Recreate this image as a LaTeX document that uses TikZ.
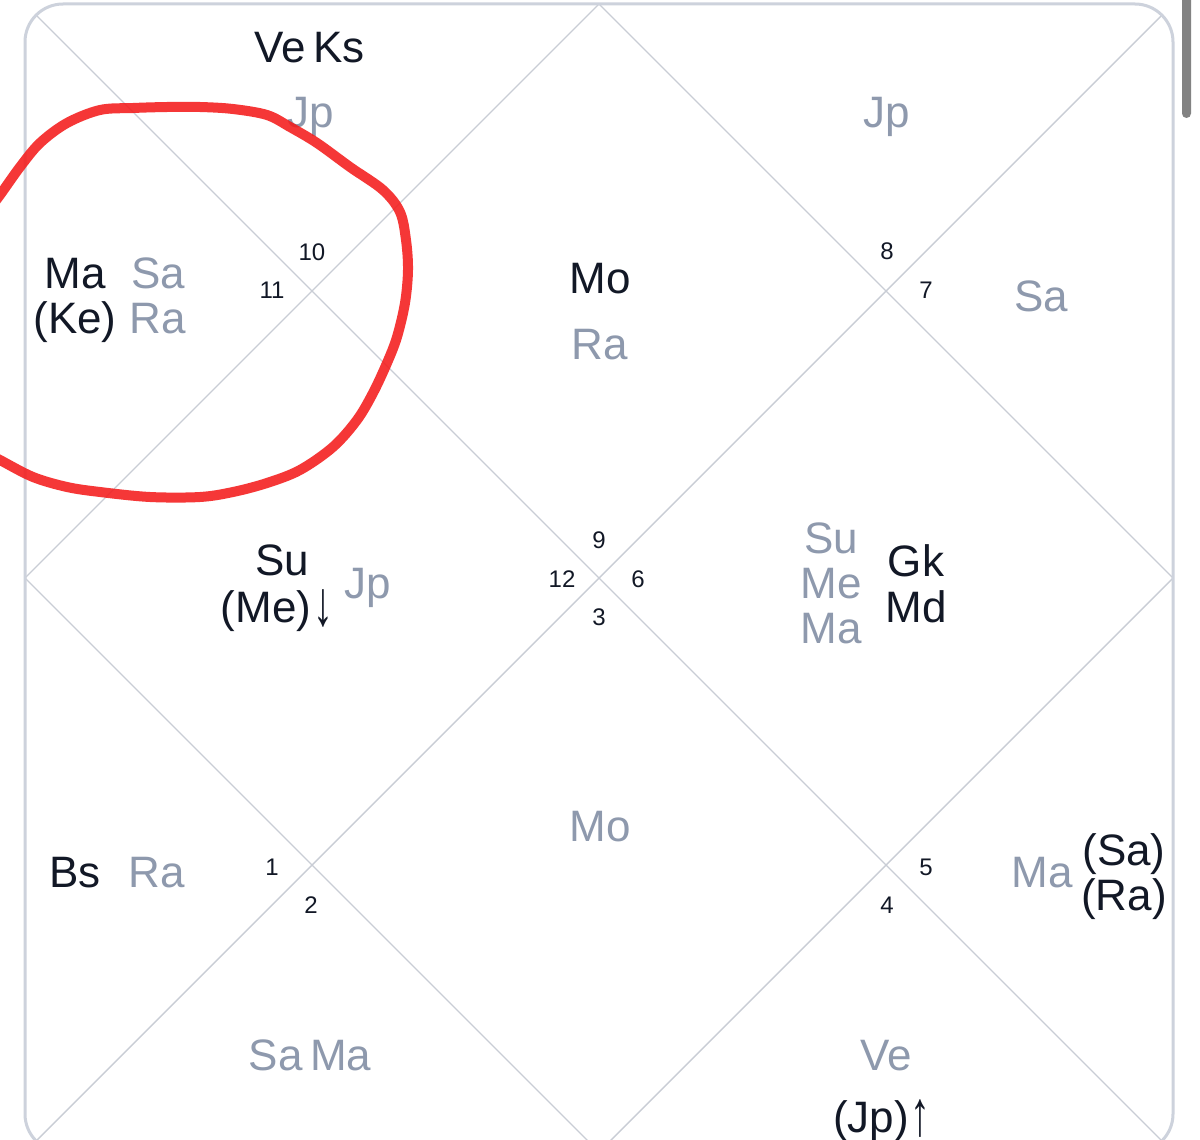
\documentclass[tikz,border=0pt]{standalone}
\usepackage{fontspec}
\setmainfont{Liberation Sans}
\definecolor{ink}{HTML}{121826}
\definecolor{slate}{HTML}{8E99AD}
\definecolor{gridln}{HTML}{C9CDD5}
\definecolor{frameln}{HTML}{CDD2DC}
\definecolor{marker}{HTML}{F41C1C}
\definecolor{scrollc}{HTML}{828282}
\newcommand{\tallarrow}[1]{\raisebox{-3pt}{\scalebox{0.9}[1.45]{#1}}}
\begin{document}
\begin{tikzpicture}[x=1pt,y=-1pt,
  pl/.style={anchor=base, inner sep=0pt, font=\fontsize{44}{48}\selectfont},
  dk/.style={pl, text=ink},
  gr/.style={pl, text=slate},
  num/.style={anchor=base, inner sep=0pt, font=\fontsize{24}{28}\selectfont, text=ink},
  gridline/.style={draw=gridln, line width=1.4pt},
  frameline/.style={draw=frameln, line width=3pt, rounded corners=38pt}]
\useasboundingbox (0,0) rectangle (1200,1140);
\fill[white] (0,0) rectangle (1200,1140);
% chart corners and midpoints
\coordinate (TL) at (25,4);
\coordinate (TR) at (1173,4);
\coordinate (BR) at (1173,1152);
\coordinate (BL) at (25,1152);
\coordinate (MT) at (599,4);
\coordinate (MR) at (1173,578);
\coordinate (MB) at (599,1152);
\coordinate (ML) at (25,578);
\begin{scope}
  \clip[rounded corners=38pt] (TL) rectangle (BR);
  \draw[gridline] (TL) -- (BR);
  \draw[gridline] (TR) -- (BL);
  \draw[gridline] (MT) -- (MR) -- (MB) -- (ML) -- cycle;
\end{scope}
\draw[frameline] (TL) rectangle (BR);
% scroll bar
\fill[scrollc, rounded corners=4.5pt] (1182,-10) rectangle (1191,118);

% house 10 (top)
\node[dk, anchor=base east] (veA) at (306,63) {Ve};
\node[dk, anchor=base west] (ksA) at (313,63) {Ks};
\node[gr] (jpA) at (311,128) {Jp};
% house 11
\node[dk] (maA) at (75,288) {Ma};
\node[dk] (keA) at (75,333) {(Ke)};
\node[gr] (saA) at (158,288) {Sa};
\node[gr] (raA) at (158,333) {Ra};
% house 9 (center top)
\node[dk] (moA) at (600,293) {Mo};
\node[gr] (raB) at (600,359) {Ra};
% house 8
\node[gr] (jpB) at (887,128) {Jp};
% house 7
\node[gr] (saB) at (1041,311) {Sa};
% house 12
\node[dk] (suA) at (282,575) {Su};
\node[dk] (meA) at (277,622) {(Me)\kern2pt\tallarrow{↓}};
\node[gr] (jpC) at (368,598) {Jp};
% house 6
\node[gr] (suB) at (831,553) {Su};
\node[gr] (meB) at (831,598) {Me};
\node[gr] (maB) at (831,643) {Ma};
\node[dk] (gkA) at (916,576) {Gk};
\node[dk] (mdA) at (916,622) {Md};
% house 3
\node[gr] (moB) at (600,841) {Mo};
% house 1
\node[dk] (bsA) at (75,887) {Bs};
\node[gr] (raC) at (157,887) {Ra};
% house 5
\node[gr] (maC) at (1042,887) {Ma};
\node[dk] (saC) at (1124,865) {(Sa)};
\node[dk] (raD) at (1124,910) {(Ra)};
% house 2
\node[gr, anchor=base east] (saD) at (303,1070) {Sa};
\node[gr, anchor=base west] (maD) at (310,1070) {Ma};
% house 4
\node[gr] (veB) at (886,1070) {Ve};
\node[dk] (jpD) at (882,1132) {(Jp)\kern2pt\tallarrow{↑}};

% house numbers
\node[num] (n10) at (312,260) {10};
\node[num] (n11) at (272,298) {11};
\node[num] (n8) at (887,259) {8};
\node[num] (n7) at (926,298) {7};
\node[num] (n9) at (599,548) {9};
\node[num] (n12) at (562,587) {12};
\node[num] (n6) at (638,587) {6};
\node[num] (n3) at (599,625) {3};
\node[num] (n1) at (272,875) {1};
\node[num] (n2) at (311,913) {2};
\node[num] (n5) at (926,875) {5};
\node[num] (n4) at (887,913) {4};

% red hand-drawn circle
\draw[marker, opacity=0.88, line width=10pt, line cap=round, line join=round]
  plot[smooth, tension=0.55] coordinates {
   (-15,215) (0,195) (20,167) (40,143) (67,123) (100,110) (133,108) (167,107)
   (200,107) (233,109) (267,115) (290,127) (317,143) (350,167) (383,190)
   (400,212) (406,240) (408,270) (405,303) (397,337) (387,363) (373,393)
   (357,420) (333,447) (300,470) (267,483) (233,492) (200,497) (150,497)
   (100,492) (67,487) (33,477) (0,460) (-15,452)};
\end{tikzpicture}
\end{document}
